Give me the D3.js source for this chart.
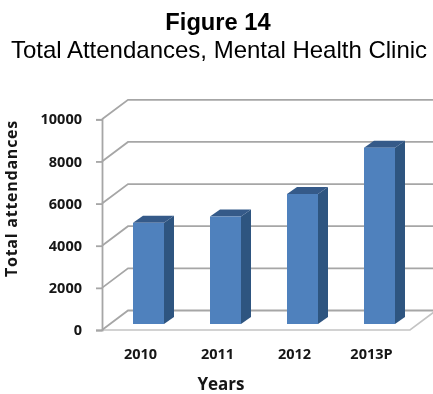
<!DOCTYPE html>
<html><head><meta charset="utf-8">
<script src="https://cdn.jsdelivr.net/npm/d3@7"></script>
<style>html,body{margin:0;padding:0;background:#fff}svg{display:block}</style></head>
<body><svg id="c" width="433" height="394"></svg>
<script>
const categories = ["2010","2011","2012","2013P"];
const attendances = [4800,5100,6170,8370];
const yTicks = [0,2000,4000,6000,8000,10000];
const titleLines = ["Figure 14","Total Attendances, Mental Health Clinic"];
const yTitle = "Total attendances", xTitle = "Years";

const svg = d3.select("#c");
svg.append("defs").append("filter").attr("id","soft").attr("x","-5%").attr("y","-5%").attr("width","110%").attr("height","110%")
  .append("feGaussianBlur").attr("stdDeviation",0.4);
const x = d3.scaleBand().domain(categories).range([102,410]);
const y = d3.scaleLinear().domain([0,10000]).range([330,119.3]);
const wall = {dx:26,dy:-19.5}, bar={w:31,dx:10,dy:-7,ox:8,oy:-6};
const grid="#a6a6a6", label="#141414";
const font='"Open Sans",sans-serif';
const root = svg.append("g").attr("filter","url(#soft)");

root.append("text").attr("x",218).attr("y",30).attr("text-anchor","middle")
  .attr("font-family","Liberation Sans").attr("font-weight","bold").attr("font-size",23.7).attr("fill","#000").text(titleLines[0]);
root.append("text").attr("x",219).attr("y",58).attr("text-anchor","middle")
  .attr("font-family","Liberation Sans").attr("font-size",24).attr("fill","#000").text(titleLines[1]);

const g = root.append("g");
g.append("path").attr("d",`M${x.range()[0]},${y(0)}H${x.range()[1]}l${wall.dx},${wall.dy}`).attr("fill","none").attr("stroke","#c4c4c4").attr("stroke-width",1.6);
yTicks.forEach(t=>{
  g.append("path").attr("d",`M102,${y(t)}l${wall.dx},${wall.dy}H433`).attr("fill","none").attr("stroke",grid).attr("stroke-width",1.8);
});
const ax = g.append("g").attr("transform","translate(102,0)").call(d3.axisLeft(y).tickValues(yTicks).tickSize(6).tickPadding(14).tickFormat(d3.format("d")));
ax.selectAll("path").attr("stroke",grid).attr("stroke-width",1.8);
ax.selectAll("line").attr("stroke",grid).attr("stroke-width",1.8);
ax.selectAll("text").attr("font-family",font).attr("font-weight",700).attr("font-size",14.5).attr("fill",label);

const bars = g.selectAll("g.bar").data(categories.map((c,i)=>({c,v:attendances[i]}))).join("g").attr("class","bar");
const bx = d=>x(d.c)+x.bandwidth()/2-bar.w/2+bar.ox;
const by0 = y(0)+bar.oy, byT = d=>y(d.v)+bar.oy;
bars.append("path").attr("fill","#2f5480").attr("d",d=>`M${bx(d)+bar.w},${by0}V${byT(d)}l${bar.dx},${bar.dy}V${by0+bar.dy}Z`);
bars.append("path").attr("fill","#345a89").attr("d",d=>`M${bx(d)},${byT(d)}h${bar.w}l${bar.dx},${bar.dy}h${-bar.w}Z`);
bars.append("rect").attr("fill","#4f81bd").attr("x",bx).attr("y",byT).attr("width",bar.w).attr("height",d=>by0-byT(d));

const xa = g.append("g").attr("transform","translate(0,353.5)").call(d3.axisBottom(x).tickSize(0).tickPadding(0));
xa.select("path").remove();
xa.selectAll("text").attr("font-family",font).attr("font-weight",700).attr("font-size",14.5).attr("fill",label).attr("dy","0.36em").attr("y",0);
root.append("text").attr("x",221).attr("y",390).attr("text-anchor","middle").attr("font-family",font).attr("font-weight",700).attr("font-size",17).attr("fill",label).text(xTitle);
root.append("text").attr("transform","translate(17.2,198.5) rotate(-90)").attr("text-anchor","middle").attr("font-family",font).attr("font-weight",700).attr("font-size",16).attr("letter-spacing",0.75).attr("fill",label).text(yTitle);
</script></body></html>
